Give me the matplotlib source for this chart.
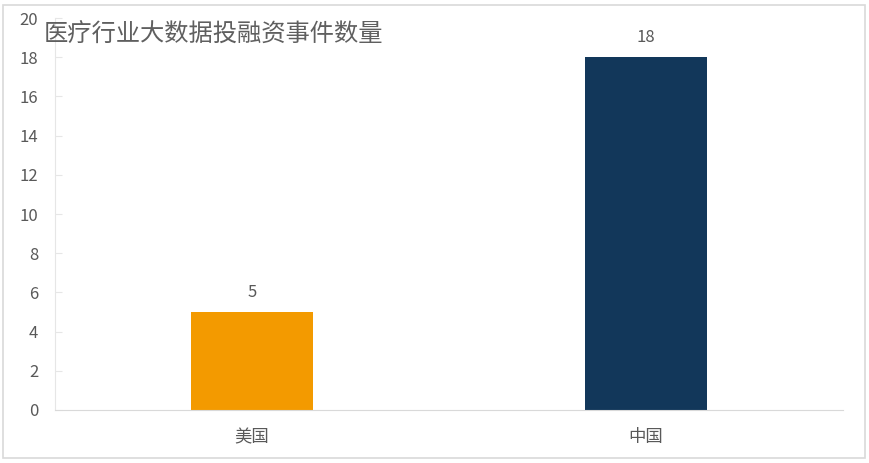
import matplotlib
matplotlib.use("Agg")
import matplotlib.pyplot as plt
from matplotlib.patches import Rectangle

plt.rcParams['font.family'] = ['Noto Sans CJK SC', 'DejaVu Sans']

# data
countries = ["美国", "中国"]
events = [5, 18]
bar_colors = ["#F39A00", "#12375A"]
title = "医疗行业大数据投融资事件数量"
y_ticks = [0, 2, 4, 6, 8, 10, 12, 14, 16, 18, 20]

text_gray = "#595959"
line_gray = "#D9D9D9"

fig = plt.figure(figsize=(8.7, 4.63), dpi=100)
fig.patches.append(Rectangle((0.004, 0.011), 0.99, 0.978, transform=fig.transFigure,
                             fill=False, edgecolor=line_gray, linewidth=1.2))

ax = fig.add_axes([0.0632, 0.1145, 0.906, 0.8465])
x = range(len(countries))
bars = ax.bar(x, events, width=0.31, color=bar_colors)

for b, v in zip(bars, events):
    ax.annotate(str(v), (b.get_x() + b.get_width() / 2, v), xytext=(0, 8),
                textcoords="offset points", ha="center", va="bottom",
                fontsize=12, color=text_gray)

ax.set_xlim(-0.5, 1.5)
ax.set_ylim(0, 20)
ax.set_yticks(y_ticks)
ax.set_xticks(list(x))
ax.set_xticklabels(countries)

for s in ["top", "right"]:
    ax.spines[s].set_visible(False)
ax.spines["left"].set_color("#E6E6E6")
ax.spines["bottom"].set_color(line_gray)

ax.tick_params(axis="y", direction="in", length=5, color="#E6E6E6",
               labelsize=12, labelcolor=text_gray, pad=12)
ax.tick_params(axis="x", length=0, labelsize=12.5, labelcolor=text_gray, pad=13)

# title sits just right of the "20" tick label
fig.text(44 / 870, 1 - 35 / 463, title, fontsize=17.5, fontweight="medium",
         color="#5F5F5F", ha="left", va="center")

fig.savefig("out.png", dpi=100)
